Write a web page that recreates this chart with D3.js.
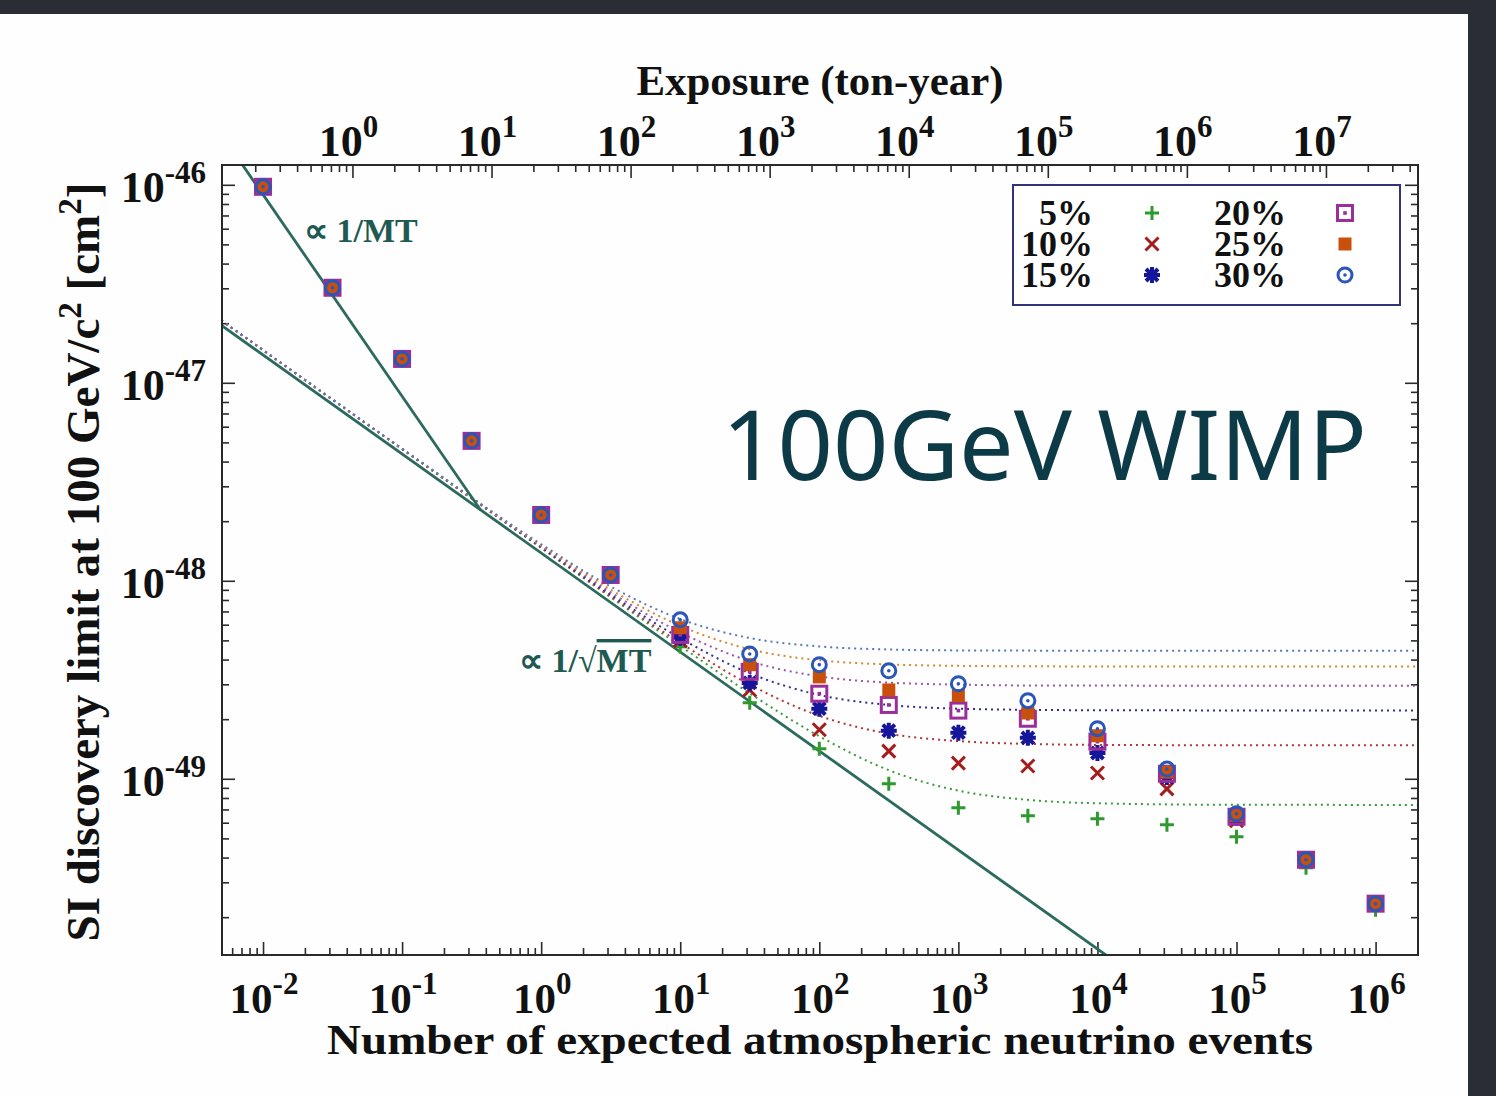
<!DOCTYPE html>
<html>
<head>
<meta charset="utf-8">
<script src="https://cdn.jsdelivr.net/npm/d3@7"></script>
<style>
  body { margin: 0; background: #2a2d34; }
  svg { display: block; }
  .axis path { display: none; }
  .axis line { stroke: #2a2a2a; stroke-width: 1.6; }
  .serif { font-family: 'Liberation Serif', 'Times New Roman', serif; font-weight: bold; }
</style>
</head>
<body>
<script>
// expected atmospheric neutrino events (x positions of the points)
const events = [0.01, 0.0316, 0.1, 0.316, 1, 3.16, 10, 31.6, 100, 316, 1000, 3160, 1e4, 3.16e4, 1e5, 3.16e5, 1e6];

// discovery limits, in units of 1e-50 cm^2
const UNIT = 1e-50;
const limit5 = [9770, 3020, 1320, 509, 215, 107, 46.4, 24.2, 14.2, 9.44, 7.14, 6.50, 6.28, 5.86, 5.09, 3.55, 2.18];
const limit10 = [9770, 3020, 1320, 509, 215, 107, 49.8, 28.1, 17.7, 13.8, 12.0, 11.6, 10.7, 8.89, 6.14, 3.90, 2.34];
const limit15 = [9770, 3020, 1320, 509, 215, 107, 51.5, 30.5, 22.6, 17.5, 17.1, 16.1, 13.5, 10.2, 6.35, 3.90, 2.34];
const limit20 = [9770, 3020, 1320, 509, 215, 107, 53.3, 34.7, 26.9, 23.6, 22.1, 20.1, 15.4, 10.6, 6.43, 3.90, 2.34];
const limit25 = [9770, 3020, 1320, 509, 215, 107, 57.9, 37.7, 32.7, 28.1, 26.3, 21.5, 16.5, 10.8, 6.50, 3.90, 2.34];
const limit30 = [9770, 3020, 1320, 509, 215, 107, 63.5, 42.7, 37.7, 35.1, 30.2, 24.8, 17.9, 11.2, 6.65, 3.90, 2.34];

// dotted fit curves, read at these event counts
const fitEvents = [0.005, 0.1, 1, 3.16, 10, 31.6, 100, 316, 1000, 3160, 1e4, 1e5, 2.1e6];
const fit5 = [2070, 462.9, 146.6, 82.6, 46.9, 27.0, 16.4, 11.05, 8.71, 7.83, 7.52, 7.39, 7.38];
const fit10 = [2070, 463.0, 147.1, 83.6, 48.6, 29.9, 20.8, 16.9, 15.5, 15.0, 14.83, 14.77, 14.76];
const fit15 = [2070, 463.3, 148.1, 85.2, 51.3, 34.1, 26.5, 23.6, 22.6, 22.3, 22.19, 22.15, 22.14];
const fit20 = [2070, 463.7, 149.3, 87.4, 54.9, 39.3, 32.9, 30.6, 29.9, 29.6, 29.56, 29.53, 29.52];
const fit25 = [2070, 464.3, 151.0, 90.2, 59.2, 45.1, 39.7, 37.8, 37.2, 37.0, 36.93, 36.9, 36.9];
const fit30 = [2070, 464.9, 153.0, 93.5, 64.1, 51.4, 46.6, 45.0, 44.5, 44.4, 44.3, 44.3, 44.3];

// scaling lines (events, limit in 1e-50 cm^2)
const lineMT = [[0.005, 18070], [0.3664, 228]];
const lineSqrtMT = [[0.005, 1954], [2e4, 0.977]];

const labels = ['5%', '10%', '15%', '20%', '25%', '30%'];

// axes
const bottomTicks = [-2, -1, 0, 1, 2, 3, 4, 5, 6];
const topTicks = [0, 1, 2, 3, 4, 5, 6, 7];
const leftTicks = [-46, -47, -48, -49];
const exposurePerEvent = 22.75; // ton-year per expected event

const series = [
  { label: labels[0], values: limit5, fit: fit5, shape: 'plus', color: '#2e9a2e', dot: '#3a9a3a' },
  { label: labels[1], values: limit10, fit: fit10, shape: 'cross', color: '#a61c1c', dot: '#b03838' },
  { label: labels[2], values: limit15, fit: fit15, shape: 'star', color: '#16169a', dot: '#303090' },
  { label: labels[3], values: limit20, fit: fit20, shape: 'squareDot', color: '#9a2e9a', dot: '#9a55a8' },
  { label: labels[4], values: limit25, fit: fit25, shape: 'square', color: '#c8500c', dot: '#d08a30' },
  { label: labels[5], values: limit30, fit: fit30, shape: 'circleDot', color: '#2a56b8', dot: '#5a78b8' },
];

const width = 1496;
const height = 1096;
const margin = { top: 165, right: 78, bottom: 141, left: 222 };
const chart_right = width - margin.right;
const chart_bottom = height - margin.bottom;

const svg = d3.select('body').append('svg').attr('width', width).attr('height', height);

// white page
svg.append('rect').attr('x', 0).attr('y', 14).attr('width', 1468).attr('height', height - 14).attr('fill', '#fefefe');

const x = d3.scaleLog().domain([Math.pow(10, -2.295), Math.pow(10, 6.305)]).range([margin.left, chart_right]);
const xTop = d3.scaleLog().domain(x.domain().map(d => d * exposurePerEvent)).range([margin.left, chart_right]);
const y = d3.scaleLog().domain([Math.pow(10, -45.9), Math.pow(10, -49.89)]).range([margin.top, chart_bottom]);

function minors(scale) {
  const [a, b] = d3.extent(scale.domain());
  const out = [];
  for (let e = Math.floor(Math.log10(a)); e <= Math.ceil(Math.log10(b)); e++) {
    for (let k = 2; k <= 9; k++) {
      const v = k * Math.pow(10, e);
      if (v >= a && v <= b) out.push(v);
    }
  }
  return out;
}

function addAxis(axisFn, scale, majors, translate) {
  const g1 = svg.append('g').attr('class', 'axis').attr('transform', translate)
    .call(axisFn(scale).tickValues(majors).tickSize(-13).tickFormat(''));
  const g2 = svg.append('g').attr('class', 'axis').attr('transform', translate)
    .call(axisFn(scale).tickValues(minors(scale)).tickSize(-7).tickFormat(''));
  g1.selectAll('text').remove();
  g2.selectAll('text').remove();
}

addAxis(d3.axisBottom, x, bottomTicks.map(e => Math.pow(10, e)), 'translate(0,' + chart_bottom + ')');
addAxis(d3.axisTop, xTop, topTicks.map(e => Math.pow(10, e)), 'translate(0,' + margin.top + ')');
addAxis(d3.axisLeft, y, leftTicks.map(e => Math.pow(10, e)), 'translate(' + margin.left + ',0)');
addAxis(d3.axisRight, y, leftTicks.map(e => Math.pow(10, e)), 'translate(' + chart_right + ',0)');

// tick labels
function powLabel(t, exp) {
  t.append('tspan').text('10');
  t.append('tspan').attr('dy', -19).attr('font-size', 31).text(exp);
}

bottomTicks.forEach(e => {
  const t = svg.append('text').attr('class', 'serif').attr('font-size', 43)
    .attr('text-anchor', 'middle').attr('x', x(Math.pow(10, e)) + 1).attr('y', 1013).attr('fill', '#111');
  powLabel(t, e);
});
topTicks.forEach(e => {
  const t = svg.append('text').attr('class', 'serif').attr('font-size', 44)
    .attr('text-anchor', 'middle').attr('x', xTop(Math.pow(10, e)) - 4).attr('y', 156).attr('fill', '#111');
  powLabel(t, e);
});
leftTicks.forEach(e => {
  const t = svg.append('text').attr('class', 'serif').attr('font-size', 44)
    .attr('text-anchor', 'end').attr('x', 206).attr('y', y(Math.pow(10, e)) + 17).attr('fill', '#111');
  powLabel(t, e);
});

// axis titles
svg.append('text').attr('class', 'serif').attr('font-size', 42).attr('fill', '#111')
  .attr('text-anchor', 'middle').attr('x', 820).attr('y', 1054)
  .attr('textLength', 986).attr('lengthAdjust', 'spacingAndGlyphs')
  .text('Number of expected atmospheric neutrino events');

svg.append('text').attr('class', 'serif').attr('font-size', 42).attr('fill', '#111')
  .attr('text-anchor', 'middle').attr('x', 820).attr('y', 95)
  .attr('textLength', 367).attr('lengthAdjust', 'spacingAndGlyphs')
  .text('Exposure (ton-year)');

const yTitle = svg.append('text').attr('class', 'serif').attr('font-size', 47).attr('fill', '#111')
  .attr('text-anchor', 'middle').attr('transform', 'translate(99,562) rotate(-90)');
yTitle.append('tspan').text('SI discovery limit at 100 GeV/c');
yTitle.append('tspan').attr('dy', -18).attr('font-size', 33).text('2');
yTitle.append('tspan').attr('dy', 18).text(' [cm');
yTitle.append('tspan').attr('dy', -18).attr('font-size', 33).text('2');
yTitle.append('tspan').attr('dy', 18).text(']');

// plot content
svg.append('defs').append('clipPath').attr('id', 'clip').append('rect')
  .attr('x', margin.left).attr('y', margin.top)
  .attr('width', chart_right - margin.left).attr('height', chart_bottom - margin.top);

const plot = svg.append('g').attr('clip-path', 'url(#clip)');

const fitLine = d3.line().curve(d3.curveMonotoneX)
  .x(d => x(d[0])).y(d => y(d[1] * UNIT));

series.forEach(s => {
  plot.append('path')
    .datum(fitEvents.map((n, i) => [n, s.fit[i]]))
    .attr('d', fitLine)
    .attr('fill', 'none')
    .attr('stroke', s.dot)
    .attr('stroke-width', 2)
    .attr('stroke-dasharray', '2,4');
});

const straight = d3.line().x(d => x(d[0])).y(d => y(d[1] * UNIT));
[lineMT, lineSqrtMT].forEach(l => {
  plot.append('path').datum(l).attr('d', straight)
    .attr('fill', 'none').attr('stroke', '#2b6a5c').attr('stroke-width', 2.8);
});

function marker(g, shape, color) {
  if (shape === 'plus') {
    g.append('path').attr('d', 'M-7,0H7M0,-7V7').attr('stroke', color).attr('stroke-width', 3);
  } else if (shape === 'cross') {
    g.append('path').attr('d', 'M-6.5,-6.5L6.5,6.5M-6.5,6.5L6.5,-6.5').attr('stroke', color).attr('stroke-width', 3);
  } else if (shape === 'star') {
    g.append('path').attr('d', 'M-8,0H8M0,-8V8M-6,-6L6,6M-6,6L6,-6')
      .attr('stroke', color).attr('stroke-width', 4);
  } else if (shape === 'squareDot') {
    g.append('rect').attr('x', -7.5).attr('y', -7.5).attr('width', 15).attr('height', 15)
      .attr('fill', 'none').attr('stroke', color).attr('stroke-width', 3);
    g.append('rect').attr('x', -1.8).attr('y', -1.8).attr('width', 3.6).attr('height', 3.6).attr('fill', color);
  } else if (shape === 'square') {
    g.append('rect').attr('x', -6.5).attr('y', -6.5).attr('width', 13).attr('height', 13).attr('fill', color);
  } else if (shape === 'circleDot') {
    g.append('circle').attr('r', 7).attr('fill', 'none').attr('stroke', color).attr('stroke-width', 3);
    g.append('circle').attr('r', 1.8).attr('fill', color);
  }
}

series.forEach(s => {
  s.values.forEach((v, i) => {
    const g = svg.append('g').attr('transform', 'translate(' + x(events[i]) + ',' + y(v * UNIT) + ')');
    marker(g, s.shape, s.color);
  });
});

// frame
svg.append('rect').attr('x', margin.left).attr('y', margin.top)
  .attr('width', chart_right - margin.left).attr('height', chart_bottom - margin.top)
  .attr('fill', 'none').attr('stroke', '#2a2a2a').attr('stroke-width', 2);

// legend
const legend = svg.append('g');
legend.append('rect').attr('x', 1013).attr('y', 185).attr('width', 387).attr('height', 120)
  .attr('fill', '#fff').attr('stroke', '#33337a').attr('stroke-width', 2);
series.forEach((s, i) => {
  const col = Math.floor(i / 3);
  const row = i % 3;
  const cy = 213 + row * 31;
  legend.append('text').attr('class', 'serif').attr('font-size', 36).attr('fill', '#111')
    .attr('text-anchor', 'end').attr('x', col ? 1286 : 1093).attr('y', cy + 12).text(s.label);
  const g = legend.append('g').attr('transform', 'translate(' + (col ? 1345 : 1152) + ',' + cy + ')');
  marker(g, s.shape, s.color);
});

// annotations
svg.append('text').attr('class', 'serif').attr('font-size', 34).attr('fill', '#1f5a52')
  .attr('x', 304).attr('y', 242).text('\u221D 1/MT');

const sq = svg.append('text').attr('class', 'serif').attr('font-size', 34).attr('fill', '#1f5a52')
  .attr('x', 519).attr('y', 672);
sq.append('tspan').text('\u221D 1/\u221A');
sq.append('tspan').attr('text-decoration', 'overline').text('MT');

svg.append('text').attr('x', 722).attr('y', 480)
  .attr('font-family', "'Noto Sans', 'Open Sans', sans-serif").attr('font-size', 97)
  .attr('fill', '#0d3a47').text('100GeV WIMP');
</script>
</body>
</html>
